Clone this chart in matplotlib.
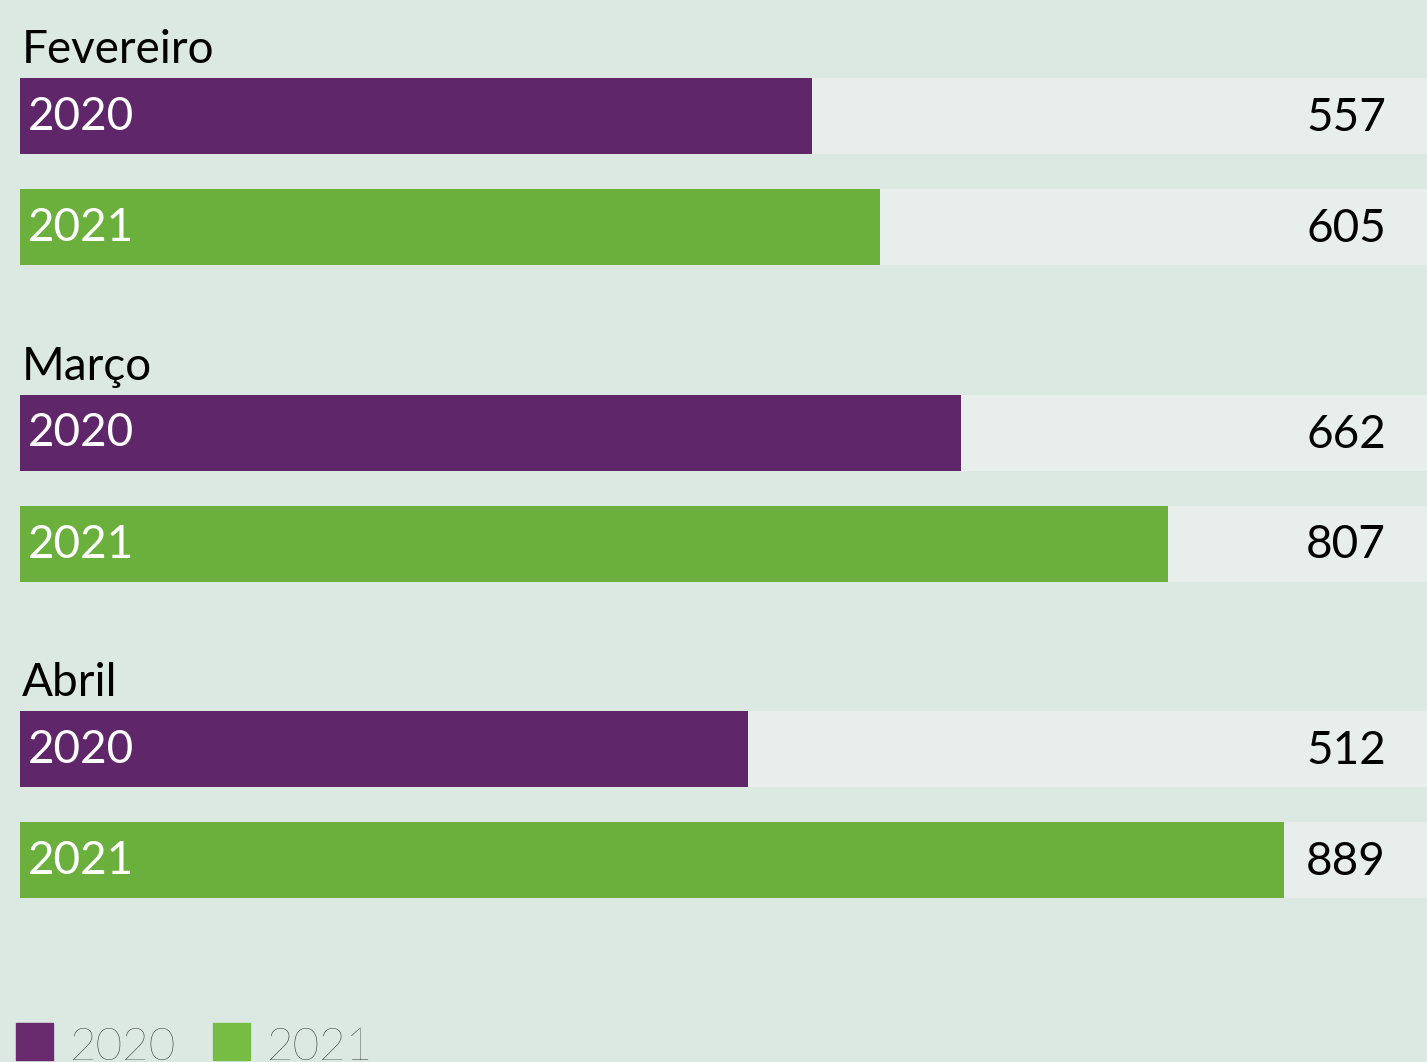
import matplotlib
matplotlib.use("Agg")
from matplotlib import pyplot as plt
from matplotlib.patches import Rectangle

# dados
meses = ["Fevereiro", "Março", "Abril"]
anos = ["2020", "2021"]
valores_2020 = [557, 662, 512]
valores_2021 = [605, 807, 889]

cores = {"2020": "#5f2669", "2021": "#6bb03c"}
cores_legenda = {"2020": "#6a2a6e", "2021": "#77bd43"}
fundo = "#dce9e3"
trilho = "#e8eeec"
fonte = ["Lato", "DejaVu Sans"]
tam = 33

W, H = 1427, 1062
esq = 20            # margem esquerda das barras (px)
escala = 1.422      # px por unidade
xmax = (W - esq) / escala

topo0 = 78          # topo da primeira barra (px)
passo_grupo = 316.5
passo_barra = 111
alt_barra = 76

fig = plt.figure(figsize=(W / 100, H / 100), dpi=100, facecolor=fundo)
ax = fig.add_axes([esq / W, 0, 1 - esq / W, 1])
ax.set_facecolor(fundo)
ax.set_xlim(0, xmax)
ax.set_ylim(H, 0)
ax.axis("off")

series = {"2020": valores_2020, "2021": valores_2021}
for i, mes in enumerate(meses):
    topo = topo0 + i * passo_grupo
    ax.text(2 / escala, topo - 15, mes, fontsize=tam, family=fonte,
            color="black", va="baseline", ha="left")
    for j, ano in enumerate(anos):
        v = series[ano][i]
        t = topo + j * passo_barra
        ax.barh(t + alt_barra / 2, xmax, height=alt_barra, color=trilho, left=0)
        ax.barh(t + alt_barra / 2, v, height=alt_barra, color=cores[ano], left=0)
        ax.text(8 / escala, t + 52, ano, fontsize=tam, family=fonte,
                color="white", va="baseline", ha="left")
        ax.text((1386 - esq) / escala, t + 53, str(v), fontsize=tam, family=fonte,
                color="black", va="baseline", ha="right")

# legenda
for k, (x0, ano) in enumerate([(16, "2020"), (213, "2021")]):
    fig.patches.append(Rectangle((x0 / W, 1 - 1060 / H), 37 / W, 37 / H,
                                 transform=fig.transFigure, color=cores_legenda[ano]))
    fig.text((x0 + 54) / W, 1 - 1060 / H, ano, fontsize=tam, family=fonte,
             fontweight="light", color="#222222", va="baseline", ha="left")

fig.savefig("out.png", dpi=100, facecolor=fundo)
